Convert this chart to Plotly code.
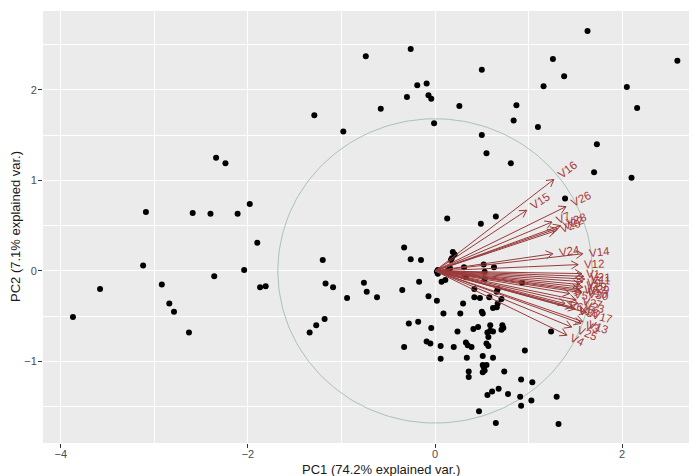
import numpy as np
import plotly.graph_objects as go

# ---- data ----
pc1 = [-1.29,-0.98,-2.34,-2.24,-1.98,-3.09,-2.59,-2.40,-2.11,-1.90,-1.20,-3.12,-2.04,-2.36,-1.17,-1.09,-3.58,-2.92,-1.87,-1.81,-0.94,-2.84,-2.79,-3.87,-1.18,-1.27,-1.34,-2.63,
       -0.74,-0.26,1.63,2.59,1.26,1.38,0.50,-0.19,-0.09,-0.30,-0.07,-0.04,-0.58,0.26,0.87,1.16,2.05,2.16,0.84,1.10,-0.01,0.50,0.55,0.81,1.73,1.70,2.10,1.39,0.13,0.49,0.65,
       -0.33,-0.26,-0.15,-0.76,-0.73,-0.62,-0.35,-0.17,-0.07,0.02,0.19,0.21,0.18,0.17,0.03,0.02,0.03,0.16,0.13,0.07,0.11,0.31,0.52,0.63,0.53,0.33,0.53,0.93,0.42,0.42,
       0.48,0.58,0.66,0.67,0.71,0.67,0.66,0.62,0.30,0.09,0.27,0.50,0.51,-0.28,-0.18,-0.33,
       -0.04,0.24,0.41,0.46,0.59,0.72,0.73,0.71,0.56,0.59,0.62,0.57,-0.09,-0.05,0.06,0.20,0.33,0.35,0.39,0.55,0.57,1.24,0.96,0.06,0.34,0.51,0.62,0.51,0.55,0.52,
       0.36,0.36,0.51,0.53,0.74,0.92,1.04,0.56,0.61,0.68,0.78,0.91,0.92,1.03,1.30,0.47,0.65,1.32]
pc2 = [1.72,1.54,1.25,1.19,0.74,0.65,0.64,0.63,0.63,0.31,0.12,0.06,0.01,-0.06,-0.14,-0.18,-0.20,-0.15,-0.18,-0.17,-0.30,-0.36,-0.45,-0.51,-0.53,-0.60,-0.68,-0.68,
       2.37,2.45,2.65,2.32,2.34,2.15,2.22,2.05,2.07,1.92,1.94,1.90,1.79,1.82,1.83,2.04,2.03,1.80,1.66,1.59,1.63,1.50,1.30,1.19,1.40,1.09,1.03,0.80,0.58,0.52,0.60,
       0.26,0.13,0.12,-0.13,-0.23,-0.29,-0.21,-0.12,-0.28,-0.33,0.21,0.18,0.14,0.12,0.01,-0.01,-0.03,0.03,0.00,-0.12,-0.10,0.04,0.07,0.04,-0.01,-0.07,-0.09,-0.13,-0.20,-0.29,
       -0.30,-0.29,-0.23,-0.20,-0.31,-0.36,-0.40,-0.41,-0.36,-0.47,-0.47,-0.45,-0.47,-0.58,-0.56,-0.84,
       -0.63,-0.67,-0.64,-0.62,-0.60,-0.60,-0.63,-0.65,-0.68,-0.66,-0.67,-0.73,-0.78,-0.80,-0.83,-0.84,-0.79,-0.82,-0.84,-0.80,-0.83,-0.67,-0.88,-0.97,-0.96,-0.94,-0.96,-1.04,-1.04,-1.06,
       -1.11,-1.17,-1.12,-1.10,-1.11,-1.20,-1.23,-1.37,-1.33,-1.30,-1.36,-1.39,-1.49,-1.43,-1.39,-1.55,-1.68,-1.69]

var_names = ["V16","V15","V26","V7","V28","V22","V20","V24","V14","V12","V1","V21","V11","V9","V19",
             "V29","V2","V10","V30","V5","V27","V6","V23","V18","V8","V17","V13","V3","V25","V4"]
load_x = [1.27,0.98,1.40,1.25,1.34,1.31,1.28,1.26,1.58,1.53,1.57,1.59,1.60,1.58,1.55,
          1.58,1.54,1.56,1.57,1.44,1.51,1.39,1.53,1.47,1.50,1.62,1.58,1.56,1.46,1.41]
load_y = [1.01,0.67,0.71,0.54,0.50,0.47,0.44,0.19,0.19,0.07,-0.03,-0.06,-0.09,-0.12,-0.15,
          -0.18,-0.20,-0.22,-0.24,-0.25,-0.32,-0.36,-0.36,-0.40,-0.42,-0.46,-0.56,-0.58,-0.62,-0.71]

circle_r = 1.68
x_range = [-4.19, 2.80]
y_range = [-1.90, 2.87]
x_title = "PC1 (74.2% explained var.)"
y_title = "PC2 (7.1% explained var.)"

# ---- layout geometry (page has an 8px body margin) ----
W, H = 689, 468
ML, MR, MT, MB = 35, 0, 3, 33
ppx = (W - ML - MR) / (x_range[1] - x_range[0])
ppy = (H - MT - MB) / (y_range[1] - y_range[0])
FONT = "Liberation Sans, Arial, sans-serif"

fig = go.Figure()

# circle
th = np.linspace(0, 2 * np.pi, 200)
fig.add_trace(go.Scatter(x=circle_r * np.cos(th), y=circle_r * np.sin(th), mode="lines",
                         line=dict(color="#A7C4B4", width=1), hoverinfo="skip", showlegend=False))

# points
fig.add_trace(go.Scatter(x=pc1, y=pc2, mode="markers",
                         marker=dict(color="black", size=6), showlegend=False))

# arrows
ax, ay = [], []
head_len = 8.0
half = np.radians(30)
annotations = []
for name, lx, ly in zip(var_names, load_x, load_y):
    ax += [0, lx, None]
    ay += [0, ly, None]
    a = np.arctan2(ly * ppy, lx * ppx)
    for s in (+1, -1):
        b = a + np.pi + s * half
        hx = lx + head_len * np.cos(b) / ppx
        hy = ly + head_len * np.sin(b) / ppy
        ax += [lx, hx, None]
        ay += [ly, hy, None]
    w = 7.6 + 6.4 * (len(name) - 1)
    d = 0.75 * w + 1
    annotations.append(dict(x=lx, y=ly, xref="x", yref="y", text=name, showarrow=False,
                            xshift=d * np.cos(a), yshift=d * np.sin(a),
                            textangle=-np.degrees(a),
                            font=dict(family=FONT, size=11.5, color="#A83A3A")))
fig.add_trace(go.Scatter(x=ax, y=ay, mode="lines", line=dict(color="#9A3A3A", width=1),
                         hoverinfo="skip", showlegend=False))

# axis titles
annotations.append(dict(text=x_title, xref="paper", yref="paper", x=(373 - ML) / (W - ML - MR),
                        y=0, yshift=-26, xanchor="center", yanchor="middle", showarrow=False,
                        font=dict(family=FONT, size=13, color="#1A1A1A")))
annotations.append(dict(text=y_title, xref="paper", yref="paper", x=0, xshift=-28,
                        y=0.5, xanchor="center", yanchor="middle", textangle=-90, showarrow=False,
                        font=dict(family=FONT, size=13, color="#1A1A1A")))

axis_common = dict(showgrid=True, gridcolor="white", gridwidth=1.1, zeroline=False,
                   ticks="outside", ticklen=4, tickcolor="#333333", tickwidth=1,
                   tickfont=dict(family=FONT, size=11, color="#4D4D4D"),
                   showline=False, automargin=False)

fig.update_layout(
    width=W, height=H,
    margin=dict(l=ML, r=MR, t=MT, b=MB, autoexpand=False),
    paper_bgcolor="white", plot_bgcolor="#EBEBEB",
    xaxis=dict(range=x_range, tick0=0, dtick=2, ticklabelstandoff=-3, **axis_common,
               minor=dict(dtick=1, tick0=0, showgrid=True, gridcolor="white", gridwidth=0.5)),
    yaxis=dict(range=y_range, tick0=0, dtick=1, ticklabelstandoff=-1, **axis_common,
               minor=dict(dtick=0.5, tick0=0, showgrid=True, gridcolor="white", gridwidth=0.5)),
    annotations=annotations,
    showlegend=False,
)

fig.write_html("out.html")
